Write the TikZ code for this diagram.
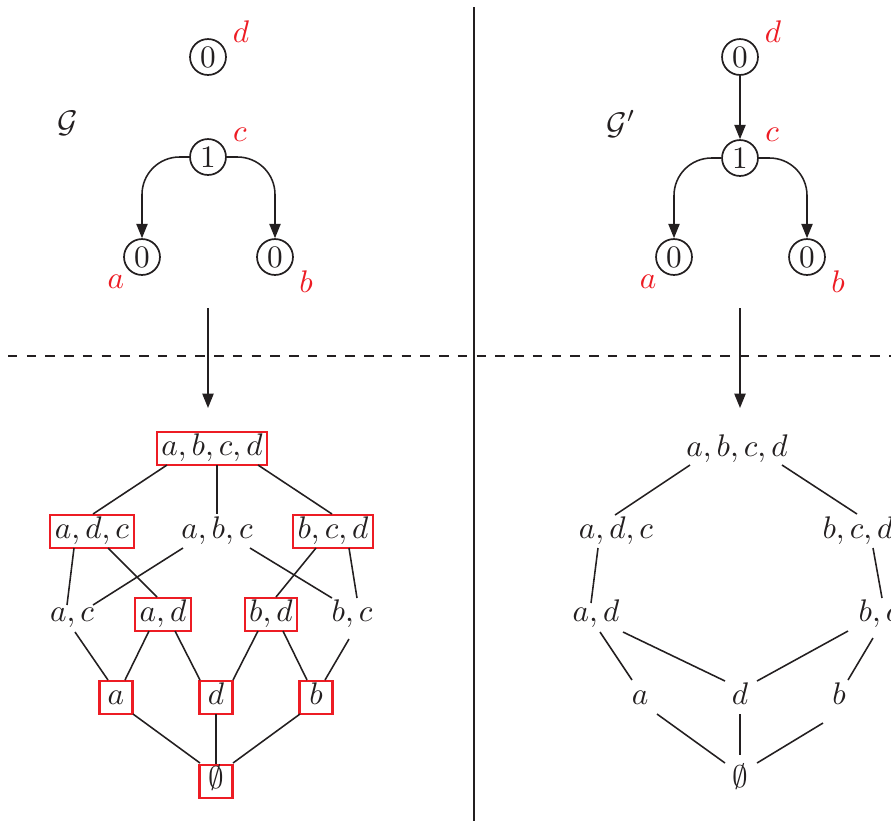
\documentclass[tikz,border=0pt]{standalone}
\usetikzlibrary{arrows.meta,calc}
\definecolor{ink}{RGB}{35,31,32}
\definecolor{redc}{RGB}{237,28,36}
\begin{document}
\begin{tikzpicture}[x=0.32pt,y=-0.32pt,
  state/.style={circle,draw=ink,line width=0.55pt,minimum size=11.5pt,inner sep=0pt,text=ink},
  lab/.style={text=redc,inner sep=0pt},
  plainset/.style={rectangle,inner xsep=1.5pt,inner ysep=0pt,minimum height=10.56pt,minimum width=10.56pt,text height=6.94pt,text depth=1.94pt,text=ink},
  setbox/.style={plainset,draw=redc,line width=0.65pt},
  link/.style={draw=ink,line width=0.5pt},
  arr/.style={link,-{Triangle[length=4.6pt,width=3.6pt]}},
  sep/.style={draw=ink,line width=0.6pt}]
\useasboundingbox (0,0) rectangle (891,820);

% separators
\coordinate (vt) at (474,7);
\coordinate (vb) at (474,822);
\coordinate (hl) at (8,356);
\coordinate (hr) at (895,356);
\draw[sep] (vt) -- (vb);
\draw[sep,dashed] (hl) -- (hr);

% ---------- left graph ----------
\node[text=ink] (LG) at (68,123) {$\mathcal{G}$};
\node[state] (Ld0) at (208,57) {0};
\node[state] (Lc0) at (208,157) {1};
\node[state] (La0) at (142,257) {0};
\node[state] (Lb0) at (275,257) {0};
\node[lab] (Ldl) at (241,32) {$d$};
\node[lab] (Lcl) at (240,135) {$c$};
\node[lab] (Lal) at (116,282) {$a$};
\node[lab] (Lbl) at (306,282) {$b$};
\draw[arr,rounded corners=12pt] (Lc0.west) -| (La0.north);
\draw[arr,rounded corners=12pt] (Lc0.east) -| (Lb0.north);
\coordinate (Las) at (208,308);
\coordinate (Lae) at (208,408);
\draw[arr] (Las) -- (Lae);

% ---------- left lattice ----------
\node[setbox] (L4) at (212,448) {$a,b,c,d$};
\node[setbox] (Ladc) at (92,531) {$a,d,c$};
\node[plainset] (Labc) at (217,531) {$a,b,c$};
\node[setbox] (Lbcd) at (333,531) {$b,c,d$};
\node[plainset] (Lac) at (72,614) {$a,c$};
\node[setbox] (Lad) at (163,614) {$a,d$};
\node[setbox] (Lbd) at (271,614) {$b,d$};
\node[plainset] (Lbc) at (352,614) {$b,c$};
\node[setbox] (La) at (116,697) {$a$};
\node[setbox] (Ld) at (216,697) {$d$};
\node[setbox] (Lb) at (316,697) {$b$};
\node[setbox] (Le) at (216,781) {$\emptyset$};

\draw[link] ($(L4)+(-45,17)$) -- ($(Ladc)+(1,-17)$);
\draw[link] ($(L4)+(5,17)$) -- ($(Labc)+(0,-17)$);
\draw[link] ($(L4)+(46,17)$) -- ($(Lbcd)+(-1,-17)$);
\draw[link] ($(Ladc)+(-18,17)$) -- ($(Lac)+(-5,-9)$);
\draw[link] ($(Ladc)+(16,17)$) -- ($(Lad)+(-6,-17)$);
\draw[link] ($(Labc)+(-34,17)$) -- ($(Lac)+(21,-9)$);
\draw[link] ($(Labc)+(33,17)$) -- ($(Lbc)+(-20,-16)$);
\draw[link] ($(Lbcd)+(-17,17)$) -- ($(Lbd)+(5,-17)$);
\draw[link] ($(Lbcd)+(16,17)$) -- ($(Lbc)+(5,-16)$);
\draw[link] ($(Lac)+(3,18)$) -- ($(La)+(-8,-17)$);
\draw[link] ($(Lad)+(-14,17)$) -- ($(La)+(9,-17)$);
\draw[link] ($(Lad)+(12,17)$) -- ($(Ld)+(-16,-17)$);
\draw[link] ($(Lbd)+(-13,17)$) -- ($(Ld)+(17,-17)$);
\draw[link] ($(Lbd)+(12,17)$) -- ($(Lb)+(-9,-17)$);
\draw[link] ($(Lbc)+(-3,25)$) -- ($(Lb)+(9,-17)$);
\draw[link] ($(La)+(17,17)$) -- ($(Le)+(-16,-18)$);
\draw[link] ($(Ld)+(0,17)$) -- ($(Le)+(0,-17)$);
\draw[link] ($(Lb)+(-16,17)$) -- ($(Le)+(17,-18)$);

% ---------- right graph ----------
\node[text=ink] (RG) at (621,124) {$\mathcal{G}'$};
\node[state] (Rd0) at (740,57) {0};
\node[state] (Rc0) at (740,158) {1};
\node[state] (Ra0) at (674,257) {0};
\node[state] (Rb0) at (807,257) {0};
\node[lab] (Rdl) at (773,32) {$d$};
\node[lab] (Rcl) at (772,135) {$c$};
\node[lab] (Ral) at (648,282) {$a$};
\node[lab] (Rbl) at (838,282) {$b$};
\draw[arr] (Rd0) -- (Rc0);
\draw[arr,rounded corners=12pt] (Rc0.west) -| (Ra0.north);
\draw[arr,rounded corners=12pt] (Rc0.east) -| (Rb0.north);
\coordinate (Ras) at (740,308);
\coordinate (Rae) at (740,408);
\draw[arr] (Ras) -- (Rae);

% ---------- right lattice ----------
\node[plainset] (R4) at (737,449) {$a,b,c,d$};
\node[plainset] (Radc) at (616,531) {$a,d,c$};
\node[plainset] (Rbcd) at (858,531) {$b,c,d$};
\node[plainset] (Rad) at (596,614) {$a,d$};
\node[plainset] (Rbc) at (879,614) {$b,c$};
\node[plainset] (Ra) at (640,697) {$a$};
\node[plainset] (Rd) at (740,697) {$d$};
\node[plainset] (Rb) at (839,697) {$b$};
\node[plainset] (Re) at (740,780) {$\emptyset$};

\draw[link] ($(R4)+(-47,16)$) -- ($(Radc)+(-1,-16)$);
\draw[link] ($(R4)+(45,16)$) -- ($(Rbcd)+(-1,-17)$);
\draw[link] ($(Radc)+(-18,17)$) -- ($(Rad)+(-5,-11)$);
\draw[link] ($(Rbcd)+(15,17)$) -- ($(Rbc)+(3,-16)$);
\draw[link] ($(Rad)+(4,18)$) -- ($(Ra)+(-8,-17)$);
\draw[link] ($(Rad)+(27,18)$) -- ($(Rd)+(-15,-16)$);
\draw[link] ($(Rbc)+(-31,17)$) -- ($(Rd)+(17,-16)$);
\draw[link] ($(Rbc)+(-6,24)$) -- ($(Rb)+(9,-17)$);
\draw[link] ($(Ra)+(17,17)$) -- ($(Re)+(-15,-17)$);
\draw[link] ($(Rd)+(0,17)$) -- ($(Re)+(0,-25)$);
\draw[link] ($(Rb)+(-16,26)$) -- ($(Re)+(17,-17)$);
\end{tikzpicture}
\end{document}
